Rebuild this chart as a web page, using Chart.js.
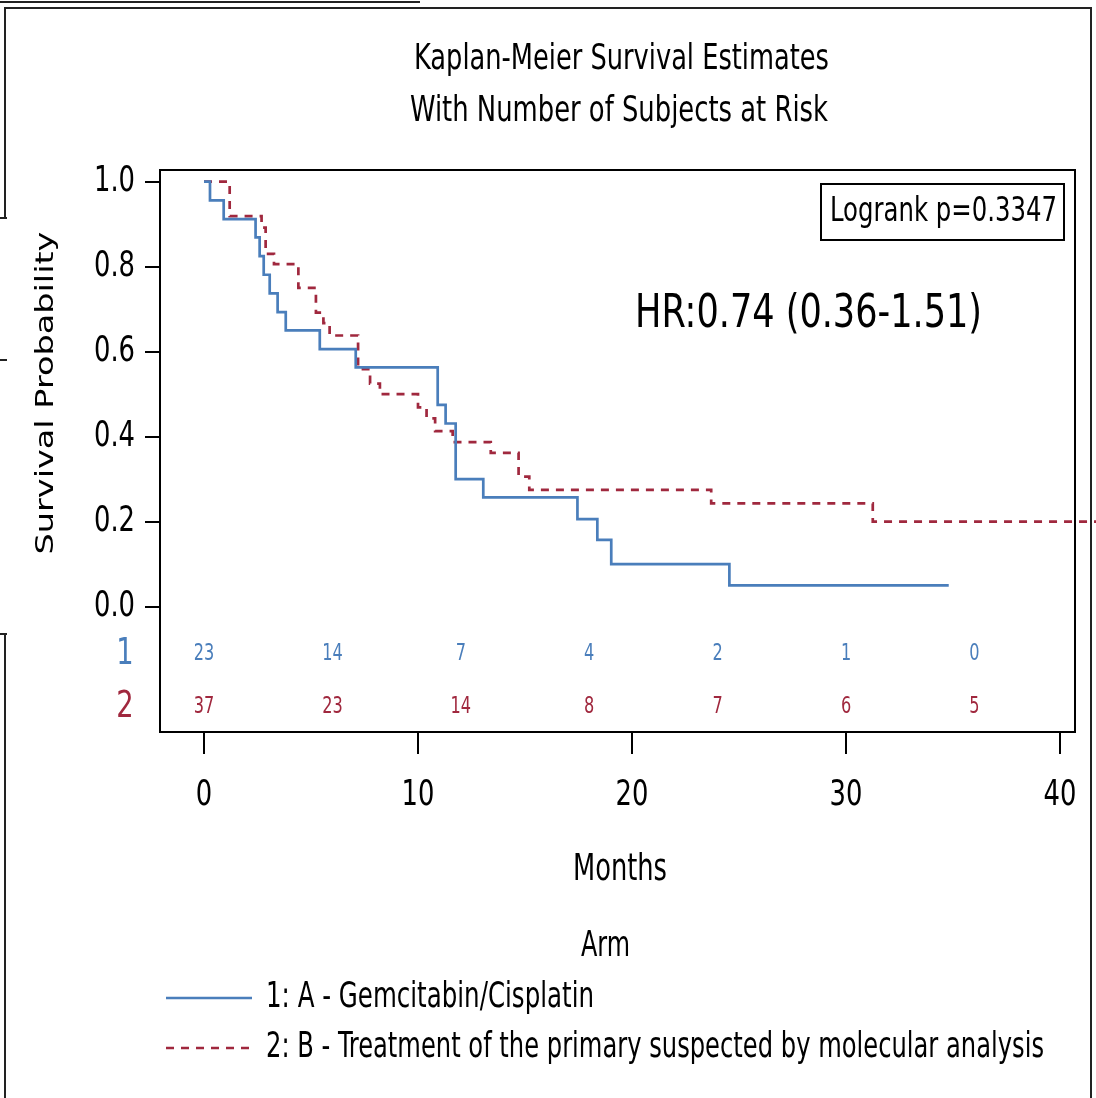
<!DOCTYPE html>
<html><head><meta charset="utf-8">
<script src="https://cdn.jsdelivr.net/npm/chart.js@4.4.1/dist/chart.umd.min.js"></script>
<style>html,body{margin:0;padding:0;background:#fff;}#wrap{width:1096px;height:1098px;}</style>
</head><body><div id="wrap"><canvas id="c" width="1096" height="1098"></canvas></div>
<script>
// ---- data ----
const titleLines = ['Kaplan-Meier Survival Estimates', 'With Number of Subjects at Risk'];
const seriesNames = ['1: A - Gemcitabin/Cisplatin', '2: B - Treatment of the primary suspected by molecular analysis'];
const groupIds = ['1', '2'];
const armTimes = [0, 0.28, 0.92, 2.41, 2.6, 2.79, 3.07, 3.44, 3.82, 5.41, 7.09, 10.92, 11.29, 11.76, 13.05, 17.45, 18.38, 19.03, 24.55, 34.8];
const armSurv  = [1.0, 0.956, 0.912, 0.869, 0.825, 0.781, 0.737, 0.693, 0.650, 0.606, 0.563, 0.475, 0.431, 0.300, 0.257, 0.206, 0.157, 0.100, 0.050, 0.050];
const armBTimes = [0, 1.2, 2.69, 2.88, 3.27, 4.41, 5.23, 5.58, 5.87, 7.2, 7.76, 8.22, 10.0, 10.4, 10.8, 11.62, 13.4, 14.7, 15.2, 23.7, 31.25, 41.7];
const armBSurv  = [1.0, 0.919, 0.892, 0.830, 0.806, 0.750, 0.692, 0.667, 0.638, 0.559, 0.525, 0.500, 0.469, 0.443, 0.413, 0.387, 0.362, 0.306, 0.275, 0.243, 0.200, 0.200];
const riskTimes = [0, 6, 12, 18, 24, 30, 36];
const riskA = [23, 14, 7, 4, 2, 1, 0];
const riskB = [37, 23, 14, 8, 7, 6, 5];
const xTicks = [0, 10, 20, 30, 40];
const yTicks = [0, 0.2, 0.4, 0.6, 0.8, 1.0];
const logrankText = 'Logrank p=0.3347';
const hrText = 'HR:0.74 (0.36-1.51)';
const xTitle = 'Months';
const legendTitle = 'Arm';
const yTitle = 'Survival Probability';

// ---- styles ----
const BLUE = '#4a7ebb', RED = '#a0283e';
const NARROW = '"Liberation Sans Narrow", "DejaVu Sans Condensed", "Arial Narrow", sans-serif';
const WIDE = '"DejaVu Sans", Verdana, sans-serif';

// draw text squeezed horizontally to a target width (or fixed scale)
function fitText(ctx, text, x, y, size, align, targetW, fixedScale) {
  ctx.font = size + 'px ' + NARROW;
  const w = ctx.measureText(text).width;
  const sx = targetW ? targetW / w : (fixedScale || 1);
  ctx.save();
  ctx.translate(x, y); ctx.scale(sx, 1);
  ctx.textAlign = align; ctx.textBaseline = 'middle';
  ctx.fillText(text, 0, 0);
  ctx.restore();
}

// squeeze the axis tick labels horizontally (the reference font is tall and narrow)
function squeezeLabels(scale, sx) {
  if (scale._squeezed) return;
  scale._squeezed = true;
  const orig = scale.drawLabels.bind(scale);
  scale.drawLabels = function (area) {
    const ctx = this.ctx;
    const fill = ctx.fillText;
    ctx.fillText = function (t, x, y, mw) {
      this.save(); this.translate(x, y); this.scale(sx, 1);
      fill.call(this, t, 0, 0);
      this.restore();
    };
    try { orig(area); } finally { ctx.fillText = fill; }
  };
}

const overlay = {
  id: 'overlay',
  afterDraw(chart) {
    const {ctx, chartArea: a, scales: {x, y}} = chart;
    ctx.save();
    // page frame fragments
    ctx.strokeStyle = '#222'; ctx.lineWidth = 2;
    ctx.beginPath();
    ctx.moveTo(0, 2); ctx.lineTo(420, 2);
    ctx.moveTo(5, 218); ctx.lineTo(5, 8); ctx.lineTo(1091, 8); ctx.lineTo(1091, 1098);
    ctx.moveTo(0, 218); ctx.lineTo(7, 218);
    ctx.moveTo(0, 360); ctx.lineTo(7, 360);
    ctx.moveTo(0, 634); ctx.lineTo(7, 634); ctx.moveTo(5, 634); ctx.lineTo(5, 1098);
    ctx.stroke();
    // plot frame top/right
    ctx.strokeStyle = '#000'; ctx.lineWidth = 2;
    ctx.beginPath();
    ctx.moveTo(a.left - 1, a.top); ctx.lineTo(a.right, a.top); ctx.lineTo(a.right, a.bottom + 1);
    ctx.stroke();
    // title
    ctx.fillStyle = '#000';
    fitText(ctx, titleLines[0], 621.5, 60, 36, 'center', 415);
    fitText(ctx, titleLines[1], 619, 112, 36, 'center', 418);
    // y title (rotated, stretched)
    ctx.save();
    ctx.translate(46, 393); ctx.rotate(-Math.PI / 2); ctx.scale(1.34, 1);
    ctx.font = '25px ' + WIDE; ctx.textAlign = 'center'; ctx.textBaseline = 'middle';
    ctx.fillText(yTitle, 0, 0);
    ctx.restore();
    // logrank box
    ctx.lineWidth = 2; ctx.strokeRect(821, 184, 243, 56);
    fitText(ctx, logrankText, 830, 212, 34, 'left', 227);
    // HR
    fitText(ctx, hrText, 635, 315, 46, 'left', 347);
    // at risk
    const y0 = y.getPixelForValue(0);
    const rows = [[riskA, BLUE, y0 + 47], [riskB, RED, y0 + 100]];
    rows.forEach(([vals, col, py], r) => {
      ctx.fillStyle = col;
      vals.forEach((v, i) => fitText(ctx, String(v), x.getPixelForValue(riskTimes[i]), py, 23, 'center', 0, 0.78));
      fitText(ctx, groupIds[r], 125, py, 38, 'center', 0, 0.8);
    });
    // x title
    ctx.fillStyle = '#000';
    fitText(ctx, xTitle, 620, 870, 38, 'center', 94);
    // legend
    fitText(ctx, legendTitle, 605.5, 947, 36, 'center', 49);
    const legY = [998, 1048], cols = [BLUE, RED], dashes = [[], [8, 7]], legW = [328, 778];
    seriesNames.forEach((n, i) => {
      ctx.strokeStyle = cols[i]; ctx.lineWidth = 2.6; ctx.setLineDash(dashes[i]);
      ctx.beginPath(); ctx.moveTo(166, legY[i]); ctx.lineTo(252, legY[i]); ctx.stroke();
      ctx.setLineDash([]);
      ctx.fillStyle = '#000';
      fitText(ctx, n, 266, legY[i], 36, 'left', legW[i]);
    });
    ctx.restore();
  }
};

const chart = new Chart(document.getElementById('c'), {
  type: 'line',
  data: {
    datasets: [
      { label: seriesNames[0], data: armTimes.map((t, i) => ({x: t, y: armSurv[i]})),
        borderColor: BLUE, borderWidth: 2.7, stepped: 'before', pointRadius: 0, fill: false },
      { label: seriesNames[1], data: armBTimes.map((t, i) => ({x: t, y: armBSurv[i]})),
        borderColor: RED, borderWidth: 2.7, borderDash: [8, 7], stepped: 'before', pointRadius: 0, fill: false, clip: false }
    ]
  },
  options: {
    responsive: false, animation: false,
    layout: { padding: { left: 0, top: 170, right: 21, bottom: 266 } },
    plugins: { legend: { display: false }, title: { display: false }, tooltip: { enabled: false } },
    scales: {
      x: {
        type: 'linear', min: -2.056, max: 40.70,
        afterBuildTicks: s => { s.ticks = xTicks.map(v => ({value: v})); },
        afterFit: s => { s.height = 100; s.paddingLeft = 0; s.paddingRight = 0; squeezeLabels(s, 0.82); },
        grid: { drawOnChartArea: false, drawTicks: true, tickLength: 22, color: '#000', lineWidth: 2 },
        border: { display: true, color: '#000', width: 2 },
        ticks: { color: '#000', padding: 21, maxRotation: 0, font: { family: NARROW, size: 35 }, callback: v => String(v) }
      },
      y: {
        type: 'linear', min: -0.295, max: 1.0275,
        afterBuildTicks: s => { s.ticks = yTicks.map(v => ({value: v})); },
        afterFit: s => { s.width = 160; s.paddingTop = 0; s.paddingBottom = 0; squeezeLabels(s, 0.82); },
        grid: { drawOnChartArea: false, drawTicks: true, tickLength: 15, color: '#000', lineWidth: 2 },
        border: { display: true, color: '#000', width: 2 },
        ticks: { color: '#000', padding: 10, font: { family: NARROW, size: 35 }, callback: v => Number(v).toFixed(1) }
      }
    }
  },
  plugins: [overlay]
});
</script>
</body></html>
